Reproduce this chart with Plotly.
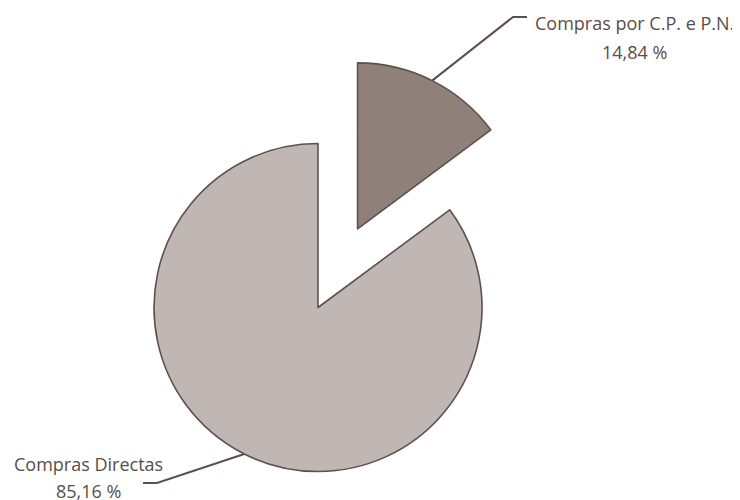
import math
import plotly.graph_objects as go

# ---- data ----
categories = ["Compras por C.P. e P.N.", "Compras Directas"]
values = [14.84, 85.16]
value_labels = ["14,84 %", "85,16 %"]

# ---- style / layout constants ----
W, H = 740, 500          # target window
OFF = 8                  # default page body margin
FW, FH = W - OFF, H - OFF
fill_colors = ["#8f807a", "#c0b6b3"]
edge_color = "#5e504b"
text_color = "#5a4d48"
big_center = (318.0, 307.5)   # px in window
big_r = 164.0
small_r = 166.0
pull_px = 88.0

total = sum(values)
mid_angles = []
cum = 0.0
for v in values:
    mid_angles.append((cum + v / 2) / total * 2 * math.pi)
    cum += v

small_center = (big_center[0] + pull_px * math.sin(mid_angles[0]),
                big_center[1] - pull_px * math.cos(mid_angles[0]))


def domain(center, r):
    cx, cy = center[0] - OFF, center[1] - OFF
    return dict(x=[(cx - r) / FW, (cx + r) / FW],
                y=[1 - (cy + r) / FH, 1 - (cy - r) / FH])


transparent = "rgba(0,0,0,0)"
fig = go.Figure()

fig.add_trace(go.Pie(
    labels=categories, values=values, sort=False, direction="clockwise",
    rotation=0, textinfo="none", hoverinfo="label+percent",
    domain=domain(big_center, big_r), showlegend=False,
    marker=dict(colors=[transparent, fill_colors[1]],
                line=dict(color=[transparent, edge_color], width=[0, 1.6])),
))
fig.add_trace(go.Pie(
    labels=categories, values=values, sort=False, direction="clockwise",
    rotation=0, textinfo="none", hoverinfo="label+percent",
    domain=domain(small_center, small_r), showlegend=False,
    marker=dict(colors=[fill_colors[0], transparent],
                line=dict(color=[edge_color, transparent], width=[1.6, 0])),
))

# leader lines (from slice bisectors), in window px
centers = [small_center, big_center]
radii = [small_r, big_r]
elbows = [(513, 17), (157, 483)]
ends = [(527, 17), (143, 483)]
for i in range(2):
    cx, cy = centers[i]
    a = mid_angles[i]
    px_ = cx + radii[i] * math.sin(a)
    py_ = cy - radii[i] * math.cos(a)
    fig.add_trace(go.Scatter(
        x=[px_, elbows[i][0], ends[i][0]], y=[py_, elbows[i][1], ends[i][1]],
        mode="lines", line=dict(color=edge_color, width=2),
        hoverinfo="skip", showlegend=False))

label_x = [634, 88]
name_y = [23, 463.5]
value_y = [52, 491]
for i in range(2):
    for txt, yy in ((categories[i], name_y[i]), (value_labels[i], value_y[i])):
        fig.add_annotation(
            x=label_x[i], y=yy, xref="x", yref="y", text=txt,
            showarrow=False, xanchor="center", yanchor="middle",
            font=dict(family="Open Sans", size=18, color=text_color))

fig.update_layout(
    width=FW, height=FH, margin=dict(l=0, r=0, t=0, b=0),
    paper_bgcolor="white", plot_bgcolor="rgba(0,0,0,0)",
    xaxis=dict(range=[OFF, W], visible=False, fixedrange=True, domain=[0, 1]),
    yaxis=dict(range=[H, OFF], visible=False, fixedrange=True, domain=[0, 1]),
)

fig.write_html("out.html")
